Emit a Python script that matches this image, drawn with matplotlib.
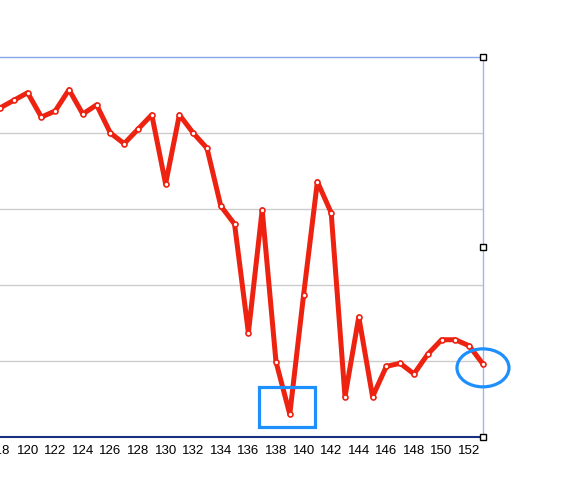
import matplotlib
matplotlib.use("Agg")
import matplotlib.pyplot as plt
from matplotlib.patches import Ellipse, Rectangle

plt.rcParams["font.family"] = ["Liberation Sans", "DejaVu Sans"]

# values (y has no labels, one gridline = 1 unit)
x_vals = list(range(118, 154))
y_vals = [
    4.33, 4.43, 4.53, 4.21, 4.29, 4.57, 4.25, 4.37, 4.00, 3.86,
    4.05, 4.24, 3.33, 4.24, 4.00, 3.80, 3.04, 2.80, 1.37, 2.99,
    0.99, 0.30, 1.87, 3.36, 2.95, 0.53, 1.58, 0.53, 0.93, 0.97,
    0.83, 1.09, 1.28, 1.28, 1.20, 0.96,
]
x_ticks = list(range(118, 154, 2))
grid_levels = [1, 2, 3, 4]

# annotations drawn on top of the chart
box_x = (136.76, 140.83)
box_y = (0.13, 0.66)
ring_center = (153.0, 0.91)
ring_size = (3.77, 0.50)

fig = plt.figure(figsize=(5.76, 5.04), dpi=100)
ax = fig.add_axes([0.0, 0.1329, 0.8385, 0.754])
ax.set_xlim(118.1, 153.0)
ax.set_ylim(0, 5)

for level in grid_levels:
    ax.axhline(level, color="#cccccc", lw=1.0, zorder=1)

ax.plot(x_vals, y_vals, color="#ee2211", lw=3.6, zorder=3,
        marker="o", markersize=3.6, markerfacecolor="white",
        markeredgecolor="#ee2211", markeredgewidth=1.2, clip_on=False)

ax.add_patch(Rectangle((box_x[0], box_y[0]), box_x[1] - box_x[0], box_y[1] - box_y[0],
                       fill=False, edgecolor="#1e8fff", lw=2.3, zorder=4))
ax.add_patch(Ellipse(ring_center, ring_size[0], ring_size[1], fill=False,
                     edgecolor="#1e8fff", lw=2.3, zorder=4, clip_on=False))

ax.spines["left"].set_visible(False)
ax.spines["top"].set_color("#8aa6ea")
ax.spines["top"].set_linewidth(1.0)
ax.spines["right"].set_color("#9fb6ee")
ax.spines["right"].set_linewidth(1.0)
ax.spines["bottom"].set_color("#1a2f80")
ax.spines["bottom"].set_linewidth(1.5)

ax.set_xticks(x_ticks)
ax.set_xticklabels([str(t) for t in x_ticks], fontsize=9.5, color="black")
ax.tick_params(axis="x", length=0, pad=6)
ax.set_yticks([])

# selection handles on the right edge
for fy in (0.0, 0.5, 1.0):
    ax.plot([1.0], [fy], marker="s", markersize=5, markerfacecolor="white",
            markeredgecolor="black", markeredgewidth=1.0,
            transform=ax.transAxes, clip_on=False, zorder=5)

fig.savefig("out.png", dpi=100)
